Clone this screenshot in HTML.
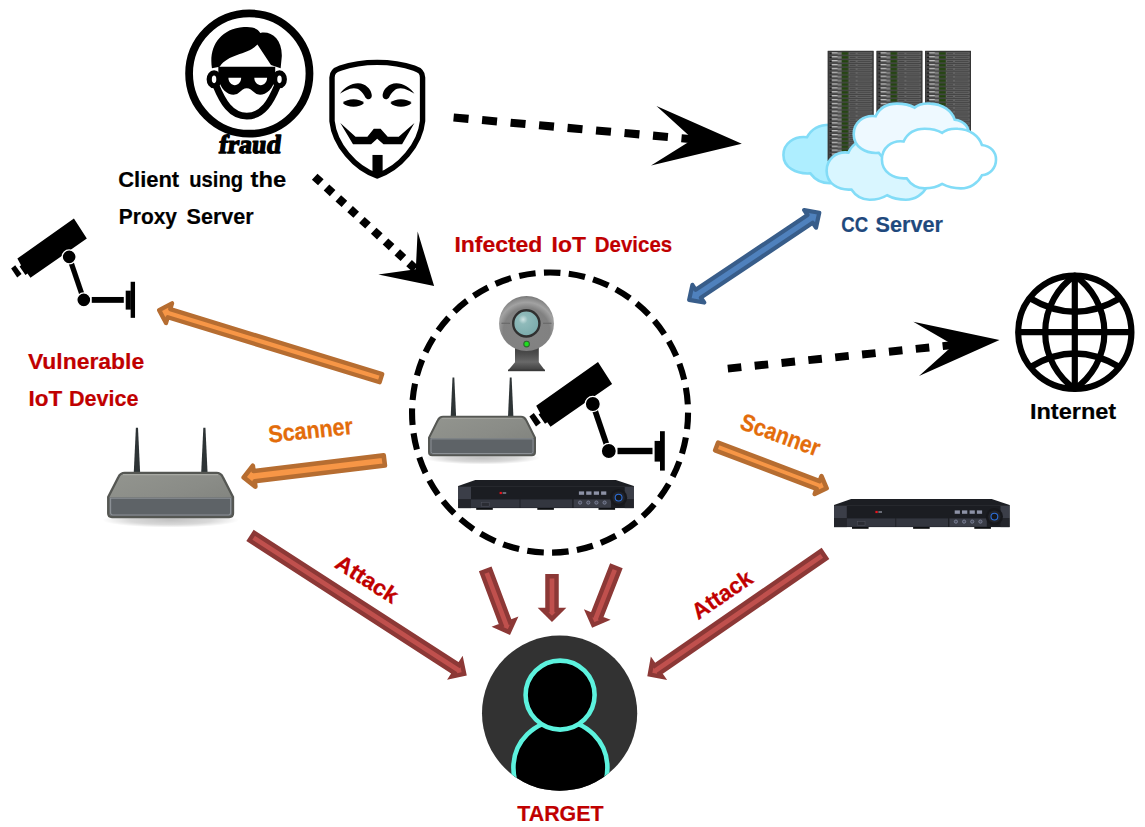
<!DOCTYPE html>
<html lang="en">
<head>
<meta charset="utf-8">
<title>IoT Botnet Attack Diagram</title>
<style>
html,body{margin:0;padding:0;background:#fff;}
body{width:1145px;height:827px;overflow:hidden;}
svg{display:block;}
text{font-family:"Liberation Sans",sans-serif;font-weight:bold;paint-order:stroke;}
</style>
</head>
<body>
<svg width="1145" height="827" viewBox="0 0 1145 827">
<rect width="1145" height="827" fill="#fff"/>
<defs>


<linearGradient id="rtTop" x1="0" y1="0" x2="1" y2="1">
 <stop offset="0" stop-color="#93958f"/><stop offset="0.5" stop-color="#8a8c87"/><stop offset="1" stop-color="#7d7f7a"/>
</linearGradient>
<radialGradient id="rtSh" cx="0.5" cy="0.5" r="0.5">
 <stop offset="0" stop-color="#000" stop-opacity="0.24"/><stop offset="0.6" stop-color="#000" stop-opacity="0.15"/><stop offset="1" stop-color="#000" stop-opacity="0"/>
</radialGradient>
<g id="router">
 <ellipse cx="482" cy="458" rx="58" ry="6.5" fill="url(#rtSh)"/>
 <polygon points="450.7,416.5 452.5,377.4 454.3,377.4 456.1,416.5" fill="#2e3436"/>
 <polygon points="508.0,416.5 509.8,377.4 511.6,377.4 513.4,416.5" fill="#2e3436"/>
 <path d="M443,416.8 L521,416.8 Q524.6,416.8 526.2,420.2 L535,437.8 L535,452 Q535,455.3 531.8,455.3 L432.2,455.3 Q429,455.3 429,452 L429,437.8 L437.8,420.2 Q439.4,416.8 443,416.8 Z" fill="url(#rtTop)" stroke="#555753" stroke-width="2" stroke-linejoin="round"/>
 <path d="M430,438.2 L534,438.2 L534,451.8 Q534,454.4 531.5,454.4 L432.5,454.4 Q430,454.4 430,451.8 Z" fill="#5e6367"/>
 <path d="M431,438.9 L533,438.9 L533,451.6 Q533,453.5 531.2,453.5 L432.8,453.5 Q431,453.5 431,451.6 Z" fill="none" stroke="#8b9095" stroke-width="1"/>
 <path d="M441.5,418.3 L522.5,418.3" stroke="#a6a8a2" stroke-width="0.9" fill="none"/>
</g>


<g id="cam">
 <polygon points="598.0,362.0 612.1,384.0 550.5,426.8 547.3,422.2 545.0,423.8 538.6,414.4 540.2,413.2 536.2,405.8" fill="#000"/>
 <polygon points="529.4,416.6 533.8,413.0 540.8,422.7 536.0,426.5" fill="#000"/>
 <line x1="592.8" y1="404" x2="608.8" y2="451" stroke="#000" stroke-width="5.7"/>
 <circle cx="592.8" cy="404" r="7.6" fill="#000" stroke="#fff" stroke-width="1.4"/>
 <circle cx="608.8" cy="451" r="7.6" fill="#000" stroke="#fff" stroke-width="1.4"/>
 <rect x="617.5" y="447.8" width="35" height="6.4" fill="#000"/>
 <rect x="654.6" y="440.9" width="5.6" height="20.7" fill="#000"/>
 <rect x="660" y="431.2" width="4.8" height="39.4" fill="#000"/>
</g>


<g id="dvr">
 <rect x="476.2" y="507.6" width="16.6" height="2.2" fill="#0d0e10"/>
 <rect x="537.3" y="507.6" width="16.6" height="2.2" fill="#0d0e10"/>
 <rect x="598.5" y="507.6" width="16.6" height="2.2" fill="#0d0e10"/>
 <polygon points="475.3,480 615.9,480 633.8,486.1 458.2,486.1" fill="#1c1e23"/>
 <rect x="458.2" y="486.1" width="175.6" height="22" fill="#1b1d22"/>
 <rect x="458.2" y="486.1" width="175.6" height="0.9" fill="#25272d"/>
 <rect x="458.2" y="487" width="12.8" height="12" fill="#3b3e48"/>
 <rect x="458.2" y="499" width="12.8" height="9.1" fill="#23252b"/>
 <rect x="624.7" y="487" width="9.1" height="12" fill="#3b3e48"/>
 <rect x="624.7" y="499" width="9.1" height="9.1" fill="#23252b"/>
 <rect x="471" y="499.4" width="48.6" height="8.3" fill="#33363f"/>
 <rect x="520.4" y="499.4" width="51.9" height="8.3" fill="#33363f"/>
 <rect x="573.6" y="499.4" width="37.4" height="8.3" fill="#3a3d47"/>
 <rect x="481.6" y="502.6" width="7.6" height="3.6" fill="#2a2c33" stroke="#50535e" stroke-width="0.5"/>
 <rect x="499.6" y="491.9" width="2.3" height="2.2" fill="#e8121c"/>
 <rect x="502.6" y="492.2" width="3.6" height="1.6" fill="#7d808c"/>
 <g fill="#8d92a6">
  <rect x="578.9" y="491.4" width="5.2" height="3.4"/><rect x="586.2" y="491.4" width="5.3" height="3.4"/>
  <rect x="593.8" y="491.4" width="5.2" height="3.4"/><rect x="601.1" y="491.4" width="5.2" height="3.4"/>
 </g>
 <g fill="#4a4e5e" stroke="#7f849a" stroke-width="0.9">
  <circle cx="580.1" cy="502.6" r="1.6"/><circle cx="588.3" cy="502.6" r="1.6"/>
  <circle cx="596.4" cy="502.6" r="1.6"/><circle cx="604.6" cy="502.6" r="1.6"/>
 </g>
 <circle cx="618.6" cy="497.6" r="8.6" fill="#17181c"/>
 <circle cx="618.6" cy="497.6" r="6.2" fill="#22242a"/>
 <circle cx="618.6" cy="497.6" r="3.4" fill="#15171c" stroke="#2d6fd9" stroke-width="1.1"/>
</g>

<path id="cloud" d="M640,258 C660,215 700,195 745,195 C785,195 815,205 832,215 C850,200 880,193 910,195 C970,197 1015,230 1030,275 C1075,280 1100,310 1100,347 C1100,390 1070,420 1030,425 C1010,465 970,490 925,490 C890,490 855,480 832,468 C810,482 775,490 745,490 C705,490 675,470 655,440 C590,445 532,410 532,347 C532,290 580,250 640,258 Z" vector-effect="non-scaling-stroke"/>

<pattern id="rackrow" x="0" y="52.25" width="45.7" height="3.89" patternUnits="userSpaceOnUse">
 <rect x="0" y="0" width="45.7" height="3.89" fill="#434343"/>
 <rect x="1.2" y="0" width="43.3" height="2.5" fill="#5c5c5c"/>
 <rect x="1.6" y="0.5" width="2.4" height="1.6" fill="#151515"/>
 <rect x="3.9" y="0.2" width="5.8" height="1.3" fill="#dcdcdc"/>
 <rect x="3.9" y="1.5" width="5.8" height="0.8" fill="#3c3c3c"/>
 <rect x="9.9" y="0.2" width="3.7" height="2.2" fill="#7e7e7e"/>
 <rect x="13.9" y="0.1" width="6.7" height="2.4" fill="#23440f"/>
 <rect x="21.2" y="0.2" width="7.2" height="2.2" fill="#6c6c6c"/>
 <rect x="21.8" y="0.8" width="6" height="0.9" fill="#363636"/>
 <rect x="29.2" y="0.2" width="14.6" height="2.2" fill="#747474"/>
 <rect x="29.6" y="0.7" width="13.8" height="1" fill="#3a3a3a"/>
</pattern>
</defs>

<g id="ccserver">
<use href="#cloud" transform="translate(783.00,124.10) scale(0.2186,0.1987) translate(-530,-192)" fill="#aeeeff" stroke="#82dcf7" stroke-width="2.6" vector-effect="non-scaling-stroke" style="vector-effect:non-scaling-stroke"/>
<g transform="translate(827.8,0)"><rect x="0" y="50.9" width="45.7" height="110" fill="url(#rackrow)"/><rect x="0.4" y="51.3" width="44.9" height="109.4" fill="none" stroke="#333" stroke-width="0.9"/></g>
<g transform="translate(876.6,0)"><rect x="0" y="50.9" width="45.7" height="110" fill="url(#rackrow)"/><rect x="0.4" y="51.3" width="44.9" height="109.4" fill="none" stroke="#333" stroke-width="0.9"/></g>
<g transform="translate(925.2,0)"><rect x="0" y="50.9" width="45.7" height="110" fill="url(#rackrow)"/><rect x="0.4" y="51.3" width="44.9" height="109.4" fill="none" stroke="#333" stroke-width="0.9"/></g>
<use href="#cloud" transform="translate(826.20,139.20) scale(0.2016,0.2030) translate(-530,-192)" fill="#d9f6ff" stroke="#82dcf7" stroke-width="2.6" vector-effect="non-scaling-stroke" style="vector-effect:non-scaling-stroke"/>
<use href="#cloud" transform="translate(853.30,103.00) scale(0.2028,0.2010) translate(-530,-192)" fill="#eef9ff" stroke="#82dcf7" stroke-width="2.6" vector-effect="non-scaling-stroke" style="vector-effect:non-scaling-stroke"/>
<use href="#cloud" transform="translate(881.50,128.20) scale(0.2009,0.2020) translate(-530,-192)" fill="#ffffff" stroke="#82dcf7" stroke-width="2.6" vector-effect="non-scaling-stroke" style="vector-effect:non-scaling-stroke"/>
</g>
<g id="globe" fill="none" stroke="#000" stroke-width="6.2">
 <circle cx="1074.8" cy="332.2" r="56.6"/>
 <path d="M1074.8,275.6 A68.9,68.9 0 0 0 1074.8,388.8 A68.9,68.9 0 0 0 1074.8,275.6 Z" stroke-linejoin="round"/>
 <line x1="1074.8" y1="275" x2="1074.8" y2="389.5"/>
 <line x1="1018" y1="332.2" x2="1131.6" y2="332.2"/>
 <path d="M1030.5,298.5 Q1074.8,325 1119.5,298.5"/>
 <path d="M1031.5,366.5 Q1074.8,340.5 1118.5,366.5"/>
</g>
<g id="targetperson">
 <clipPath id="tclip"><circle cx="559.6" cy="713.2" r="77.6"/></clipPath>
 <circle cx="559.6" cy="713.2" r="77.6" fill="#323232"/>
 <g clip-path="url(#tclip)">
  <circle cx="560.4" cy="767.7" r="47" fill="#000" stroke="#5cf2de" stroke-width="4.6"/>
  <circle cx="560.1" cy="695.1" r="34.5" fill="#000" stroke="#5cf2de" stroke-width="4.6"/>
 </g>
</g>
<ellipse cx="550.05" cy="412.55" rx="138" ry="140.1" pathLength="350" fill="none" stroke="#000" stroke-width="6.1" stroke-dasharray="6.65 3.35" stroke-dashoffset="-0.03"/>
<g id="webcam">
 <defs>
 <radialGradient id="wcHead" cx="0.5" cy="0.64" r="0.64" gradientUnits="objectBoundingBox"><stop offset="0" stop-color="#848484"/><stop offset="0.66" stop-color="#818181"/><stop offset="0.82" stop-color="#a2a2a2"/><stop offset="0.93" stop-color="#8a8a8a"/><stop offset="1" stop-color="#777"/></radialGradient>
 <radialGradient id="wcLens" cx="0.38" cy="0.35" r="0.7"><stop offset="0" stop-color="#cfe3e3"/><stop offset="0.25" stop-color="#8fbaba"/><stop offset="1" stop-color="#79a9aa"/></radialGradient>
 <linearGradient id="wcNeck" x1="0" y1="0" x2="0" y2="1"><stop offset="0" stop-color="#3c3c3c"/><stop offset="0.45" stop-color="#4c4c4c"/><stop offset="1" stop-color="#6c6c6c"/></linearGradient><linearGradient id="wcBase" x1="0" y1="0" x2="0" y2="1"><stop offset="0" stop-color="#666"/><stop offset="1" stop-color="#3e3e3e"/></linearGradient>
 </defs>
 <rect x="515" y="346" width="23.8" height="17" fill="url(#wcNeck)"/>
 <polygon points="515,362.3 538.8,362.3 545,370.6 508,370.6" fill="url(#wcBase)"/>
 <rect x="508" y="369.6" width="37" height="1.6" fill="#3a3a3a"/>
 <circle cx="526.5" cy="323.5" r="27.5" fill="url(#wcHead)"/>
 <line x1="501.5" y1="323.3" x2="510" y2="323.3" stroke="#6a6a6a" stroke-width="1.2"/>
 <line x1="543" y1="323.3" x2="551.5" y2="323.3" stroke="#6a6a6a" stroke-width="1.2"/>
 <circle cx="526.3" cy="323.4" r="13.1" fill="url(#wcLens)" stroke="#303030" stroke-width="2.4"/>
 <circle cx="526.6" cy="344.1" r="2.8" fill="#1ee01e" stroke="#2f6a2f" stroke-width="1.1"/>
</g>
<use href="#router"/>
<use href="#router" transform="translate(107.4,472.1) scale(1.177,1.146) translate(-428.3,-416.1)"/>
<use href="#cam"/>
<use href="#cam" transform="translate(83.8,299.9) scale(0.915) translate(-608.8,-451)"/>
<use href="#dvr"/>
<use href="#dvr" transform="translate(375.8,19.0)"/>
<g id="fraud" transform="translate(180,0) scale(0.19355)">
 <circle cx="358" cy="380" r="311" fill="#fff" stroke="#000" stroke-width="40"/>
 <path d="M165,352 C148,250 200,150 330,140 C380,136 402,150 415,170 C470,158 528,200 526,290 L520,352 L470,336 L400,230 C350,285 250,275 205,345 Z" fill="#000"/>
 <path d="M185,440 C220,525 262,600 345,600 C428,600 470,525 505,440" fill="none" stroke="#000" stroke-width="35"/>
 <ellipse cx="176" cy="410" rx="25" ry="33" fill="#fff" stroke="#000" stroke-width="27"/>
 <ellipse cx="514" cy="410" rx="25" ry="33" fill="#fff" stroke="#000" stroke-width="27"/>
 <path d="M198,345 L492,345 L492,400 C482,475 420,505 390,482 C370,466 360,456 345,456 C330,456 320,466 300,482 C270,505 208,475 198,400 Z" fill="#000"/>
 <path d="M250,402 L316,402 C316,425 300,440 283,440 C266,440 250,425 250,402 Z" fill="#fff"/>
 <path d="M384,402 L450,402 C450,425 434,440 417,440 C400,440 384,425 384,402 Z" fill="#fff"/>
</g>
<text transform="translate(218.2,152.6) skewX(-7)" font-size="26" textLength="62" lengthAdjust="spacingAndGlyphs" style="font-family:'Liberation Serif',serif;font-weight:bold" stroke="#000" stroke-width="1.3" stroke-linejoin="round" fill="#000">fraud</text>
<g id="mask" transform="translate(320,50) scale(0.16926)">
 <path d="M71,162 C71,132 85,119 120,107 C250,62 426,62 556,107 C592,119 606,132 606,162 L606,420 C592,560 470,700 338,744 C206,700 86,560 71,420 Z" fill="#fff" stroke="#000" stroke-width="32" stroke-linejoin="round"/>
 <path id="brow" d="M118,258 C150,212 212,182 258,204 C292,220 306,250 306,270 C306,292 280,298 268,280 C250,246 230,226 200,226 C170,226 140,245 118,258 Z" fill="#000"/>
 <use href="#brow" transform="translate(676,0) scale(-1,1)"/>
 <path id="meye" d="M135,313 C162,284 234,284 260,313 C234,343 162,343 135,313 Z" fill="#000"/>
 <use href="#meye" transform="translate(676,0) scale(-1,1)"/>
 <polygon points="120,432 210,512 280,512 318,465 358,465 400,512 465,512 558,432 485,557 375,557 338,525 302,557 195,557" fill="#000"/>
 <rect x="310" y="620" width="60" height="118" fill="#000"/>
</g>
<g transform="translate(453.60,117.50) rotate(5.194)">
<line x1="0" y1="0" x2="242.39" y2="0" stroke="#000" stroke-width="8.1" stroke-dasharray="15 13.6" stroke-dashoffset="0"/>
<polygon points="289.39,0 200.99,-29.90 240.39,0 200.99,29.90" fill="#000"/>
</g>
<g transform="translate(727.80,368.60) rotate(-5.988)">
<line x1="0" y1="0" x2="228.89" y2="0" stroke="#000" stroke-width="7.9" stroke-dasharray="13.6 13.4" stroke-dashoffset="0"/>
<polygon points="273.19,0 189.39,-27.35 226.89,0 189.39,27.35" fill="#000"/>
</g>
<g transform="translate(314.70,176.70) rotate(42.497)">
<line x1="0" y1="0" x2="139.14" y2="0" stroke="#000" stroke-width="8.3" stroke-dasharray="8.3 7.7" stroke-dashoffset="0"/>
<polygon points="161.94,0 112.94,-29.10 137.14,0 112.94,29.10" fill="#000"/>
</g>
<polygon points="2.15,-4.25 223.84,-4.25 223.84,-10.30 234.14,0.00 223.84,10.30 223.84,4.25 2.15,4.25" transform="translate(383.00,378.80) rotate(-162.945)" fill="#f79646" stroke="#b66d31" stroke-width="4.3" stroke-linejoin="round" stroke-miterlimit="10"/>
<polygon points="2.30,-5.15 133.45,-5.15 133.45,-10.50 143.95,0.00 133.45,10.50 133.45,5.15 2.30,5.15" transform="translate(386.60,460.20) rotate(173.128)" fill="#f79646" stroke="#b66d31" stroke-width="4.6" stroke-linejoin="round" stroke-miterlimit="10"/>
<polygon points="2.25,-4.15 110.85,-4.15 110.85,-9.60 120.05,0.00 110.85,9.60 110.85,4.15 2.25,4.15" transform="translate(714.50,445.60) rotate(20.836)" fill="#f79646" stroke="#b66d31" stroke-width="4.5" stroke-linejoin="round" stroke-miterlimit="10"/>
<polygon points="2.10,0.00 13.10,-10.60 13.10,-4.70 147.65,-4.70 147.65,-10.60 158.65,0.00 147.65,10.60 147.65,4.70 13.10,4.70 13.10,10.60" transform="translate(687.40,301.00) rotate(-33.789)" fill="#4f81bd" stroke="#385d8a" stroke-width="4.2" stroke-linejoin="round" stroke-miterlimit="10"/>
<polygon points="2.20,-4.55 246.13,-4.55 246.13,-9.00 255.03,0.00 246.13,9.00 246.13,4.55 2.20,4.55" transform="translate(250.00,535.40) rotate(32.871)" fill="#c0504d" stroke="#8c3836" stroke-width="4.4" stroke-linejoin="miter" stroke-miterlimit="10"/>
<polygon points="2.20,-4.55 58.51,-4.55 58.51,-9.00 67.41,0.00 58.51,9.00 58.51,4.55 2.20,4.55" transform="translate(485.20,568.90) rotate(69.406)" fill="#c0504d" stroke="#8c3836" stroke-width="4.4" stroke-linejoin="miter" stroke-miterlimit="10"/>
<polygon points="2.20,-4.55 35.91,-4.55 35.91,-9.00 44.81,0.00 35.91,9.00 35.91,4.55 2.20,4.55" transform="translate(552.00,574.10) rotate(90.000)" fill="#c0504d" stroke="#8c3836" stroke-width="4.4" stroke-linejoin="miter" stroke-miterlimit="10"/>
<polygon points="2.20,-4.55 54.69,-4.55 54.69,-9.00 63.59,0.00 54.69,9.00 54.69,4.55 2.20,4.55" transform="translate(616.40,565.70) rotate(111.371)" fill="#c0504d" stroke="#8c3836" stroke-width="4.4" stroke-linejoin="miter" stroke-miterlimit="10"/>
<polygon points="2.20,-4.55 204.48,-4.55 204.48,-9.00 213.38,0.00 204.48,9.00 204.48,4.55 2.20,4.55" transform="translate(825.50,553.40) rotate(145.407)" fill="#c0504d" stroke="#8c3836" stroke-width="4.4" stroke-linejoin="miter" stroke-miterlimit="10"/>
<text y="186.6" font-size="22.3" fill="#000" stroke="#000" stroke-width="0.2"><tspan x="118.2" textLength="61.0" lengthAdjust="spacingAndGlyphs">Client</tspan> <tspan x="189.2" textLength="53.9" lengthAdjust="spacingAndGlyphs">using</tspan> <tspan x="250.6" textLength="35.6" lengthAdjust="spacingAndGlyphs">the</tspan></text>
<text y="223.7" font-size="22.3" fill="#000" stroke="#000" stroke-width="0.2"><tspan x="118.8" textLength="58.2" lengthAdjust="spacingAndGlyphs">Proxy</tspan> <tspan x="186.6" textLength="67.1" lengthAdjust="spacingAndGlyphs">Server</tspan></text>
<text y="251.9" font-size="22.3" fill="#c00000" stroke="#c00000" stroke-width="0.2"><tspan x="454.4" textLength="88.0" lengthAdjust="spacingAndGlyphs">Infected</tspan> <tspan x="551.6" textLength="34.4" lengthAdjust="spacingAndGlyphs">IoT</tspan> <tspan x="594.8" textLength="77.4" lengthAdjust="spacingAndGlyphs">Devices</tspan></text>
<text y="368.6" font-size="22.3" fill="#c00000" stroke="#c00000" stroke-width="0.2"><tspan x="27.9" textLength="116.3" lengthAdjust="spacingAndGlyphs">Vulnerable</tspan></text>
<text y="406.1" font-size="22.3" fill="#c00000" stroke="#c00000" stroke-width="0.2"><tspan x="28.6" textLength="33.8" lengthAdjust="spacingAndGlyphs">IoT</tspan> <tspan x="68.9" textLength="69.5" lengthAdjust="spacingAndGlyphs">Device</tspan></text>
<text y="232.0" font-size="22.3" fill="#1f497d" stroke="#1f497d" stroke-width="0.2"><tspan x="841.3" textLength="26.9" lengthAdjust="spacingAndGlyphs">CC</tspan> <tspan x="875.6" textLength="67.4" lengthAdjust="spacingAndGlyphs">Server</tspan></text>
<text y="419.1" font-size="22.3" fill="#000" stroke="#000" stroke-width="0.2"><tspan x="1029.9" textLength="86.3" lengthAdjust="spacingAndGlyphs">Internet</tspan></text>
<text y="820.9" font-size="22.3" fill="#c00000" stroke="#c00000" stroke-width="0.2"><tspan x="517.2" textLength="86.4" lengthAdjust="spacingAndGlyphs">TARGET</tspan></text>
<text transform="translate(269.2,442.8) rotate(-6)" font-size="24" textLength="84.8" lengthAdjust="spacingAndGlyphs" fill="#e36c0a" stroke="#e36c0a" stroke-width="0.3">Scanner</text>
<text transform="translate(738.7,428.4) rotate(19.8)" font-size="24" textLength="83" lengthAdjust="spacingAndGlyphs" fill="#e36c0a" stroke="#e36c0a" stroke-width="0.3">Scanner</text>
<text transform="translate(333.6,566.8) rotate(32.7)" font-size="22.3" textLength="69.5" lengthAdjust="spacingAndGlyphs" fill="#c00000" stroke="#c00000" stroke-width="0.3">Attack</text>
<text transform="translate(698.2,620.2) rotate(-34.4)" font-size="22.3" textLength="68.2" lengthAdjust="spacingAndGlyphs" fill="#c00000" stroke="#c00000" stroke-width="0.3">Attack</text>
</svg>
</body>
</html>
